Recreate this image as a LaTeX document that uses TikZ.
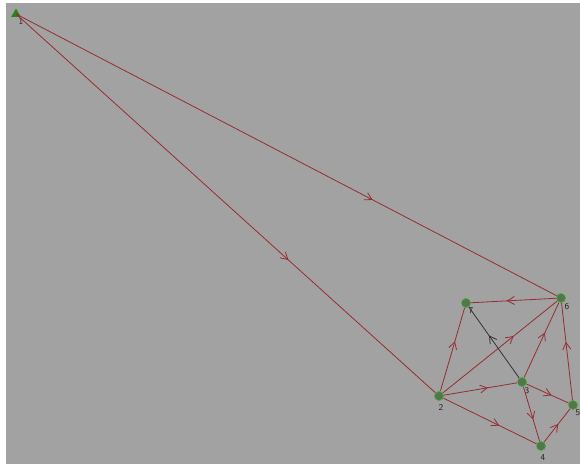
\documentclass[tikz,border=0pt]{standalone}
\usetikzlibrary{arrows.meta,decorations.markings,shapes.geometric}
\definecolor{bg}{RGB}{162,162,162}
\definecolor{edge}{RGB}{150,45,50}
\definecolor{nodegreen}{RGB}{40,130,30}
\definecolor{ringgreen}{RGB}{60,170,40}
\tikzset{
  x=1pt,y=-1pt,
  vert/.style={circle,draw=ringgreen,densely dotted,line width=1pt,fill=nodegreen!70!black!60!bg,minimum size=9pt,inner sep=0pt},
  tri/.style={fill=nodegreen,regular polygon,regular polygon sides=3,minimum size=11pt,inner sep=0pt},
  lbl/.style={font=\fontsize{9}{9}\selectfont\sffamily,text=black!85,inner sep=0pt},
  midarrow/.style={postaction={decorate},decoration={markings,mark=at position #1 with {\arrow{Straight Barb[length=7pt,width=8pt,line width=0.8pt]}}}},
  edge/.style={draw=edge,line width=0.8pt,midarrow=#1},
  blackedge/.style={draw=black!80,line width=0.8pt,midarrow=#1},
}
\begin{document}
\begin{tikzpicture}
\useasboundingbox (0,0) rectangle (580,464);
\fill[white] (0,0) rectangle (580,464);
\fill[bg] (6,3) rectangle (580,464);
% nodes
\node[tri] (n1) at (16,14) {};
\node[vert] (n7) at (466,303) {};
\node[vert] (n6) at (561,298) {};
\node[vert] (n3) at (522,382) {};
\node[vert] (n2) at (439,396) {};
\node[vert] (n5) at (573,405) {};
\node[vert] (n4) at (541,446) {};
% labels
\node[lbl] (l1) at (21,21) {1};
\node[lbl] (l7) at (471,311) {7};
\node[lbl] (l6) at (567,307) {6};
\node[lbl] (l3) at (527,391) {3};
\node[lbl] (l2) at (441,407) {2};
\node[lbl] (l5) at (578,413) {5};
\node[lbl] (l4) at (543,458) {4};
% edges
\draw[edge=0.66] (n1.center) -- (n6);
\draw[edge=0.65] (n1.center) -- (n2);
\draw[edge=0.58] (n6) -- (n7);
\draw[edge=0.6] (n2) -- (n7);
\draw[edge=0.62] (n2) -- (n6);
\draw[edge=0.6] (n2) -- (n3);
\draw[edge=0.6] (n3) -- (n6);
\draw[edge=0.6] (n5) -- (n6);
\draw[edge=0.6] (n3) -- (n5);
\draw[edge=0.6] (n3) -- (n4);
\draw[edge=0.6] (n2) -- (n4);
\draw[edge=0.55] (n4) -- (n5);
\draw[blackedge=0.6] (n3) -- (n7);
\end{tikzpicture}
\end{document}
